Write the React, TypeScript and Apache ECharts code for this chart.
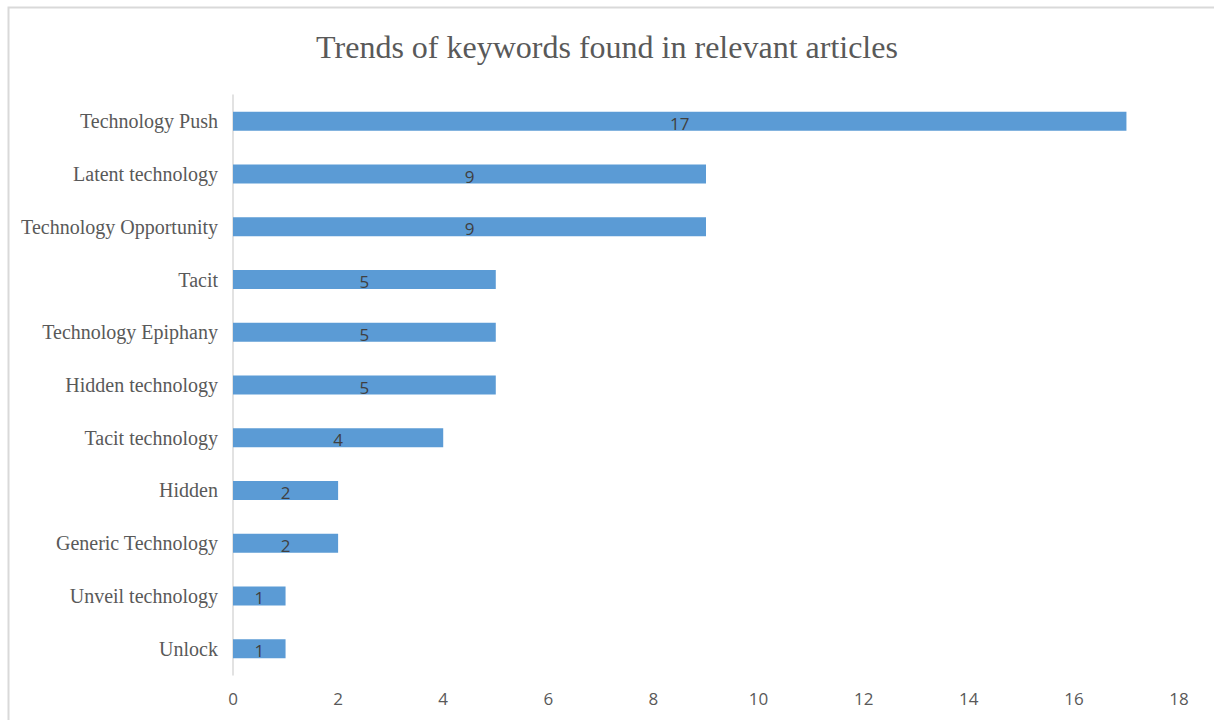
import React, { useEffect, useRef } from "react";
import * as echarts from "echarts";

const categories = [
  "Technology Push",
  "Latent technology",
  "Technology Opportunity",
  "Tacit",
  "Technology Epiphany",
  "Hidden technology",
  "Tacit technology",
  "Hidden",
  "Generic Technology",
  "Unveil technology",
  "Unlock",
];
const values = [17, 9, 9, 5, 5, 5, 4, 2, 2, 1, 1];
const xTicks = [0, 2, 4, 6, 8, 10, 12, 14, 16, 18];
const title = "Trends of keywords found in relevant articles";

export default function App() {
  const ref = useRef<HTMLDivElement>(null);
  useEffect(() => {
    if (!ref.current) return;
    const chart = echarts.init(ref.current, undefined, { renderer: "svg" });
    chart.setOption({
      animation: false,
      backgroundColor: "#ffffff",
      title: {
        text: title,
        left: "center",
        top: 26,
        textStyle: {
          fontFamily: "Liberation Serif",
          fontSize: 32,
          fontWeight: "normal",
          color: "#595959",
        },
      },
      graphic: [
        {
          type: "rect",
          shape: { x: 8.5, y: 7.5, width: 1230, height: 740 },
          style: { fill: "none", stroke: "#d9d9d9", lineWidth: 2 },
          silent: true,
        },
      ],
      grid: { left: 233, top: 95, width: 946, height: 580 },
      xAxis: {
        type: "value",
        min: xTicks[0],
        max: xTicks[xTicks.length - 1],
        interval: 2,
        axisLine: { show: false },
        axisTick: { show: false },
        splitLine: { show: false },
        axisLabel: {
          margin: 15,
          fontFamily: "Open Sans",
          fontSize: 17,
          color: "#595959",
        },
      },
      yAxis: {
        type: "category",
        data: categories,
        inverse: true,
        axisLine: { show: true, lineStyle: { color: "#d9d9d9", width: 1.5 } },
        axisTick: { show: false },
        axisLabel: {
          margin: 15,
          fontFamily: "Liberation Serif",
          fontSize: 20,
          color: "#595959",
        },
      },
      series: [
        {
          type: "bar",
          data: values,
          barWidth: "36%",
          itemStyle: { color: "#5b9bd5" },
          label: {
            show: true,
            position: "inside",
            fontFamily: "Open Sans",
            fontSize: 17,
            color: "#404040",
            offset: [0, 2],
          },
        },
      ],
    });
    return () => chart.dispose();
  }, []);
  return (
    <div
      ref={ref}
      style={{ position: "fixed", left: 0, top: 0, width: 1214, height: 720 }}
    />
  );
}
